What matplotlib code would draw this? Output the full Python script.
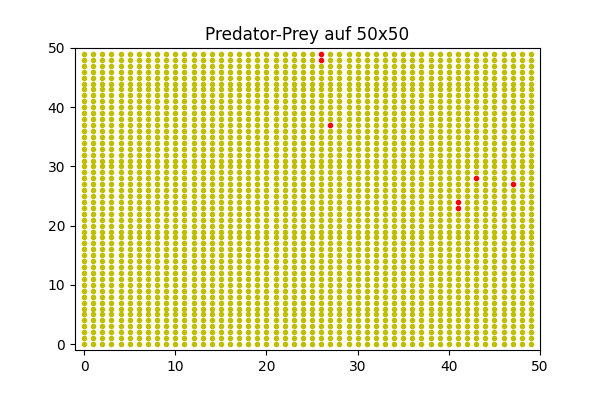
import matplotlib
matplotlib.use("Agg")
import matplotlib.pyplot as plt

# grid size of the world
cells = list(range(50))

# predators
pred_x = [26, 26, 27, 41, 41, 43, 47]
pred_y = [49, 48, 37, 24, 23, 28, 27]

# every other cell holds prey
predators = set(zip(pred_x, pred_y))
prey_x = []
prey_y = []
for x in cells:
    for y in cells:
        if (x, y) not in predators:
            prey_x.append(x)
            prey_y.append(y)

plt.figure(figsize=(6, 4), dpi=100)
plt.plot(prey_x, prey_y, 'y.')
plt.plot(pred_x, pred_y, 'r.')
plt.axis([-1, 50, -1, 50])
plt.title('Predator-Prey auf 50x50', fontsize=12.2)
plt.subplots_adjust(bottom=0.125)
plt.savefig('out.png', dpi=100)
